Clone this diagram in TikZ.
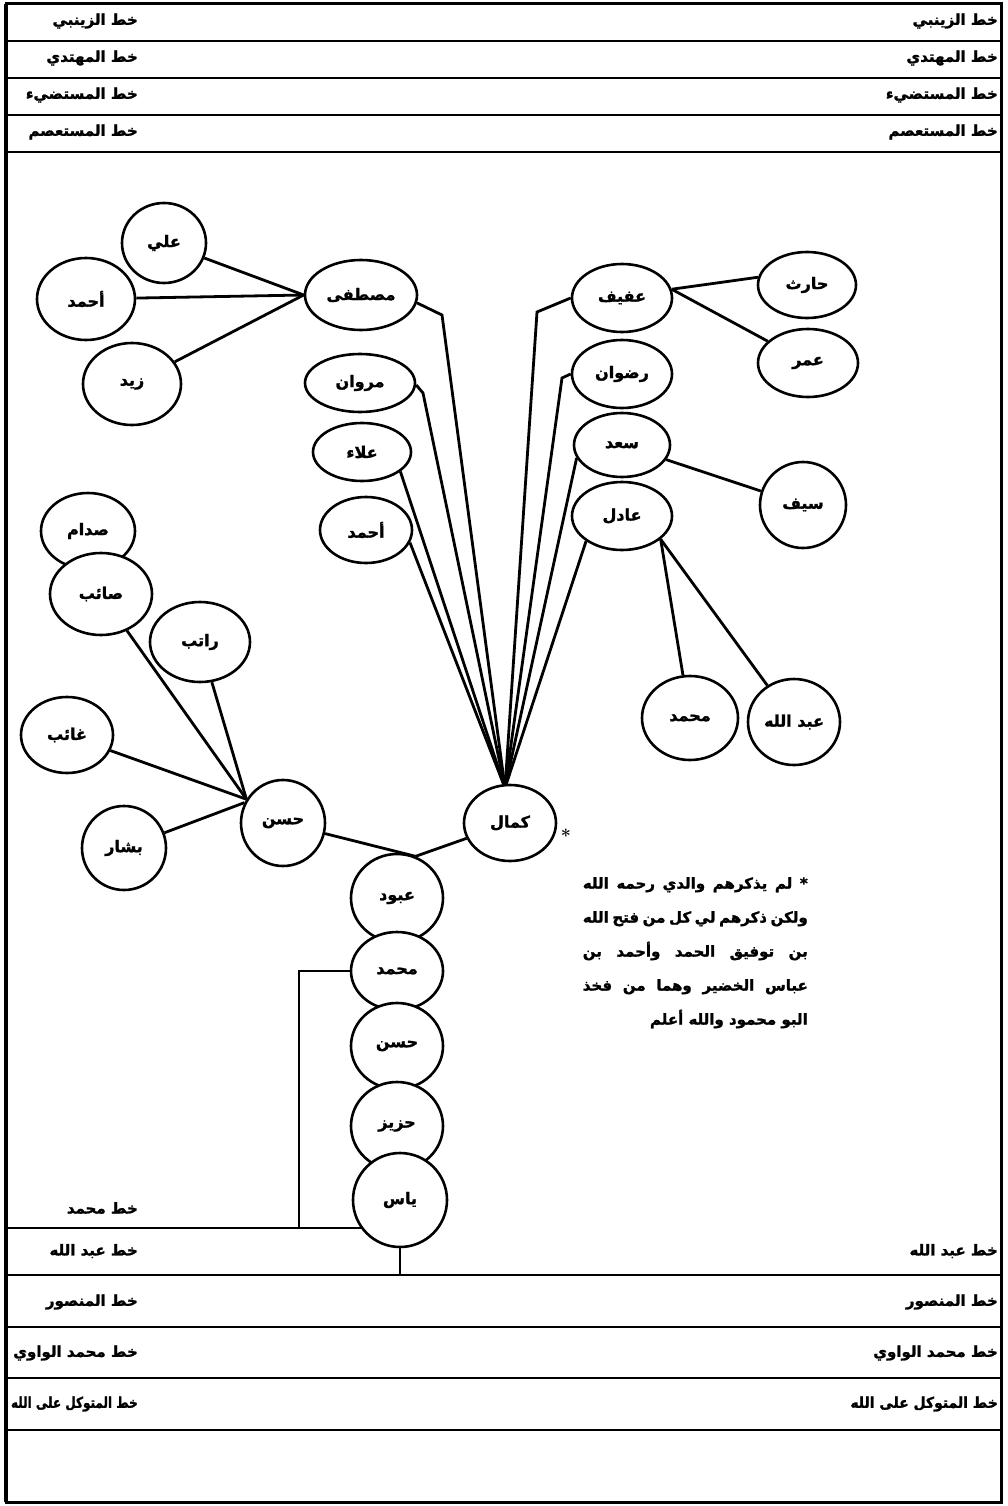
\documentclass[tikz,border=0pt]{standalone}
\usepackage{fontspec}
\newfontfamily\arfont[Script=Arabic,BoldFeatures={FakeBold=1.5}]{DejaVu Sans}
\TeXXeTstate=1
\usetikzlibrary{shapes.geometric,backgrounds}
\newcommand\ar[1]{\beginR #1\endR}
\tikzset{
  person/.style={ellipse, draw, line width=2.6pt, fill=white, inner sep=0pt,
    font=\arfont\bfseries\fontsize{16}{18}\selectfont},
  conn/.style={line width=2.8pt},
  rowlab/.style={anchor=east, inner sep=0pt, font=\arfont\bfseries\fontsize{15}{17}\selectfont},
  rule/.style={line width=2.2pt},
  notetext/.style={inner sep=0pt, align=right, font=\arfont\bfseries\fontsize{15}{34}\selectfont}
}
\begin{document}
\begin{tikzpicture}[x=1pt,y=-1pt]
\useasboundingbox (0,0) rectangle (1007,1506);
% frame and rows
\draw[line width=3pt] (6,4) rectangle (1001,1502);
\draw[line width=2.5pt] (5,4) -- (5,1502);
\foreach \yy in {41,78,115,152,1275,1327,1378,1430}
  \draw[rule] (6,\yy) -- (1001,\yy);
% row labels (right)
\node[rowlab] (rZ) at (998,21) {\ar{خط الزينبي}};
\node[rowlab] (rM) at (998,58) {\ar{خط المهتدي}};
\node[rowlab] (rS) at (998,95) {\ar{خط المستضيء}};
\node[rowlab] (rA) at (998,132) {\ar{خط المستعصم}};
\node[rowlab] (rB) at (998,1251) {\ar{خط عبد الله}};
\node[rowlab] (rN) at (998,1302) {\ar{خط المنصور}};
\node[rowlab] (rW) at (998,1353) {\ar{خط محمد الواوي}};
\node[rowlab] (rT) at (998,1404) {\scalebox{0.93}[1]{\ar{خط المتوكل على الله}}};
% row labels (left)
\node[rowlab] (lZ) at (138,21) {\ar{خط الزينبي}};
\node[rowlab] (lM) at (138,58) {\ar{خط المهتدي}};
\node[rowlab] (lS) at (138,95) {\ar{خط المستضيء}};
\node[rowlab] (lA) at (138,132) {\ar{خط المستعصم}};
\node[rowlab] (lH) at (138,1208) {\ar{خط محمد}};
\node[rowlab] (lB) at (138,1251) {\ar{خط عبد الله}};
\node[rowlab] (lN) at (138,1302) {\ar{خط المنصور}};
\node[rowlab] (lW) at (138,1353) {\ar{خط محمد الواوي}};
\node[rowlab] (lT) at (138,1404) {\scalebox{0.8}[1]{\ar{خط المتوكل على الله}}};
% persons
\node[person, minimum width=84pt, minimum height=80pt] (ali) at (164,243) {\ar{علي}};
\node[person, minimum width=98pt, minimum height=82pt] (ahmadA) at (86,299) {\ar{أحمد}};
\node[person, minimum width=98pt, minimum height=82pt] (zayd) at (132,384) {\ar{زيد}};
\node[person, minimum width=112pt, minimum height=70pt] (mus) at (361,295) {\ar{مصطفى}};
\node[person, minimum width=110pt, minimum height=58pt] (marwan) at (360,383) {\ar{مروان}};
\node[person, minimum width=98pt, minimum height=58pt] (alaa) at (362,452) {\ar{علاء}};
\node[person, minimum width=92pt, minimum height=66pt] (ahmadB) at (366,530) {\ar{أحمد}};
\node[person, minimum width=100pt, minimum height=68pt] (afif) at (622,298) {\ar{عفيف}};
\node[person, minimum width=98pt, minimum height=66pt] (harith) at (807,285) {\ar{حارث}};
\node[person, minimum width=100pt, minimum height=68pt] (umar) at (808,363) {\ar{عمر}};
\node[person, minimum width=100pt, minimum height=68pt] (ridwan) at (622,374) {\ar{رضوان}};
\node[person, minimum width=96pt, minimum height=64pt] (saad) at (622,445) {\ar{سعد}};
\node[person, minimum width=86pt, minimum height=86pt] (sayf) at (803,505) {\ar{سيف}};
\node[person, minimum width=100pt, minimum height=68pt] (adil) at (622,516) {\ar{عادل}};
\node[person, minimum width=96pt, minimum height=84pt] (muhR) at (690,718) {\ar{محمد}};
\node[person, minimum width=92pt, minimum height=86pt] (abd) at (794,722) {\ar{عبد الله}};
\node[person, minimum width=94pt, minimum height=76pt] (saddam) at (88,531) {\ar{صدام}};
\node[person, minimum width=102pt, minimum height=82pt] (saib) at (101,594) {\ar{صائب}};
\node[person, minimum width=100pt, minimum height=80pt] (ratib) at (200,642) {\ar{راتب}};
\node[person, minimum width=92pt, minimum height=76pt] (ghaib) at (67,735) {\ar{غائب}};
\node[person, minimum width=84pt, minimum height=84pt] (bashar) at (124,848) {\ar{بشار}};
\node[person, minimum width=84pt, minimum height=86pt] (hasanA) at (283,823) {\ar{حسن}};
\node[person, minimum width=92pt, minimum height=76pt] (kamal) at (510,823) {\ar{كمال}};
\node[person, minimum width=92pt, minimum height=88pt] (abood) at (397,898) {\ar{عبود}};
\node[person, minimum width=92pt, minimum height=78pt] (muhC) at (397,971) {\ar{محمد}};
\node[person, minimum width=92pt, minimum height=86pt] (hasanC) at (397,1046) {\ar{حسن}};
\node[person, minimum width=92pt, minimum height=88pt] (haziz) at (397,1126) {\ar{حزيز}};
\node[person, minimum width=94pt, minimum height=94pt] (yas) at (400,1200) {\ar{ياس}};
% star and note
\node[inner sep=0pt, font=\bfseries\fontsize{18}{18}\selectfont] (star) at (566,836) {*};
\node[notetext, anchor=north east] (note) at (808,877) {%
\hbox to 225pt{\beginR * لم يذكرهم والدي رحمه الله\endR}\\
\hbox to 225pt{\beginR ولكن ذكرهم لي كل من فتح الله\endR}\\
\hbox to 225pt{\beginR بن توفيق الحمد وأحمد بن\endR}\\
\hbox to 225pt{\beginR عباس الخضير وهما من فخذ\endR}\\
\hbox to 225pt{\hfill\beginR البو محمود والله أعلم\endR}};
% helper coordinates
\coordinate (ktop) at (505,788);
\coordinate (bMus) at (442,315);
\coordinate (bMar) at (423,393);
\coordinate (bAfif) at (537,312);
\coordinate (bRid) at (562,378);
\coordinate (brk1) at (299,971);
\coordinate (brk2) at (299,1228);
\coordinate (brk3) at (6,1228);
\coordinate (ybot) at (400,1275);
\begin{scope}[on background layer]
\fill[white] (0,0) rectangle (1007,1506);
\draw[conn] (ali) -- (mus.west);
\draw[conn] (ahmadA) -- (mus.west);
\draw[conn] (zayd) -- (mus.west);
\draw[conn] (mus.-8) -- (bMus) -- (ktop);
\draw[conn] (marwan.-2) -- (bMar) -- (ktop);
\draw[conn] (alaa.-27) -- (ktop);
\draw[conn] (ahmadB.-16) -- (ktop);
\draw[conn] (afif.west) -- (bAfif) -- (ktop);
\draw[conn] (ridwan.west) -- (bRid) -- (ktop);
\draw[conn] (saad.-164) -- (ktop);
\draw[conn] (adil.-145) -- (ktop);
\draw[conn] (afif.10) -- (harith.171);
\draw[conn] (afif.10) -- (umar);
\draw[conn] (saad) -- (sayf);
\draw[conn] (adil.-31) -- (muhR);
\draw[conn] (adil.-31) -- (abd);
\draw[conn] (saib) -- (hasanA.147);
\draw[conn] (ratib) -- (hasanA.147);
\draw[conn] (ghaib) -- (hasanA.147);
\draw[conn] (bashar) -- (hasanA.152);
\draw[conn] (hasanA) -- (abood.66);
\draw[conn] (kamal) -- (abood.66);
\draw[rule] (muhC.west) -- (brk1) -- (brk2);
\draw[rule] (brk3) -- (brk3 -| yas.center);
\draw[rule] (yas.south) -- (ybot);
\end{scope}
\end{tikzpicture}
\end{document}
